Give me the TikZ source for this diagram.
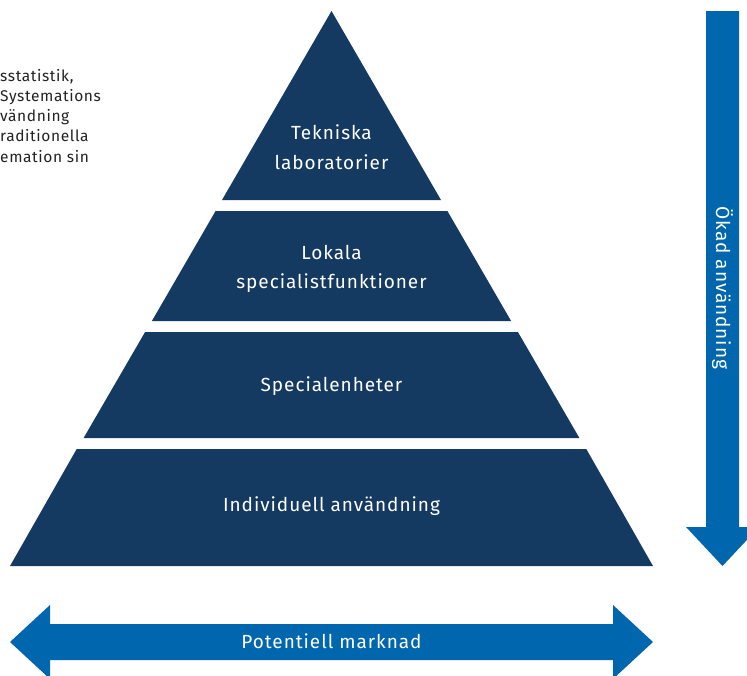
\documentclass[tikz,border=0pt]{standalone}
\usepackage{fontspec}
\setmainfont{Fira Sans}
\newfontfamily\lblfont[LetterSpace=5]{Fira Sans}
\newfontfamily\sidefont[LetterSpace=4]{Fira Sans}
\begin{document}
\begin{tikzpicture}[x=1pt,y=-1pt,
  tier/.style={fill=navy},
  lbl/.style={text=white,font=\lblfont\fontsize{19}{29.5}\selectfont,align=center,inner sep=0pt},
  arrowbody/.style={fill=arrowblue},
  side/.style={text=textgray,font=\sidefont\fontsize{15.5}{20.2}\selectfont,align=left,anchor=base west,inner sep=0pt}]
\definecolor{navy}{HTML}{143A62}
\definecolor{arrowblue}{HTML}{0066AE}
\definecolor{textgray}{HTML}{222222}
\useasboundingbox (0,0) rectangle (747,675);
\clip (0,0) rectangle (747,675);
% pyramid tiers (apex (331.5,11), base 10..653 at y=566)
\path[tier] (331.5,11) -- (441.0,200) -- (222.0,200) -- cycle;
\path[tier] (447.4,211) -- (511.1,321) -- (151.9,321) -- (215.6,211) -- cycle;
\path[tier] (517.9,332) -- (579.4,438) -- (83.6,438) -- (145.1,332) -- cycle;
\path[tier] (586.3,449) -- (653.0,566) -- (10.0,566) -- (76.7,449) -- cycle;
% labels
\node[lbl] (t1) at (331.5,147) {Tekniska\\laboratorier};
\node[lbl] (t2) at (331.5,269) {Lokala\\specialistfunktioner};
\node[lbl] (t3) at (331.5,386) {Specialenheter};
\node[lbl] (t4) at (331.5,506) {Individuell användning};
% vertical arrow
\path[arrowbody] (706,11) -- (739,11) -- (739,527) -- (759,527) -- (722.5,566) -- (686,527) -- (706,527) -- cycle;
\node[lbl,rotate=-90] (va) at (722.5,288) {Ökad användning};
% horizontal double arrow
\path[arrowbody] (10,642) -- (50,605) -- (50,624) -- (613,624) -- (613,605) -- (653,642) -- (613,679) -- (613,660) -- (50,660) -- (50,679) -- cycle;
\node[lbl] (ha) at (331.5,641) {Potentiell marknad};
% clipped side text
\node[side] (st) at (0,162) {sstatistik,\\Systemations\\vändning\\raditionella\\emation sin};
\end{tikzpicture}
\end{document}
